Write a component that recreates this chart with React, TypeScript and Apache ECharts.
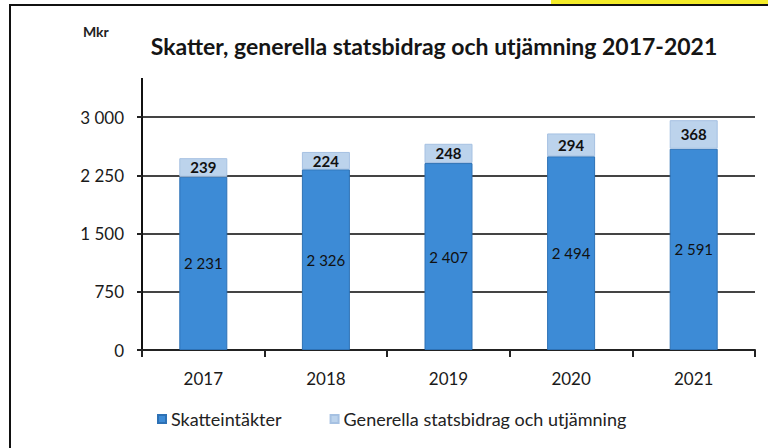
import React, { useEffect, useRef } from "react";
import * as echarts from "echarts";

const categories = ["2017", "2018", "2019", "2020", "2021"];
const skatteintakter = [2231, 2326, 2407, 2494, 2591];
const statsbidrag = [239, 224, 248, 294, 368];
const seriesNames = ["Skatteintäkter", "Generella statsbidrag och utjämning"];
const titleText = "Skatter, generella statsbidrag och utjämning 2017-2021";
const unitText = "Mkr";

const fmt = (v: number) => {
  const s = String(Math.round(v));
  return s.replace(/\B(?=(\d{3})+(?!\d))/g, " ");
};

const FONT = "Lato";

export default function App() {
  const ref = useRef<HTMLDivElement>(null);
  useEffect(() => {
    if (!ref.current) return;
    const chart = echarts.init(ref.current, undefined, { renderer: "svg" });
    chart.setOption({
      animation: false,
      backgroundColor: "#ffffff",
      textStyle: { fontFamily: FONT },
      legend: {
        left: 152,
        top: 405,
        itemWidth: 8,
        itemHeight: 8,
        itemGap: 48,
        icon: "rect",
        textStyle: { fontFamily: FONT, fontSize: 18, color: "#222" },
        data: seriesNames,
      },
      grid: { left: 142, right: 13, top: 117, bottom: 98, containLabel: false },
      xAxis: {
        type: "category",
        data: categories,
        axisLine: { lineStyle: { color: "#222", width: 2 } },
        axisTick: { show: true, length: 7, lineStyle: { color: "#222", width: 2 } },
        axisLabel: { fontFamily: FONT, fontSize: 17, color: "#1a1a1a", margin: 20 },
      },
      yAxis: {
        type: "value",
        min: 0,
        max: 3000,
        interval: 750,
        axisLine: { show: true, lineStyle: { color: "#111", width: 2 } },
        axisTick: { show: true, length: 5, lineStyle: { color: "#222", width: 2 } },
        axisLabel: {
          fontFamily: FONT,
          fontSize: 17,
          color: "#1a1a1a",
          margin: 18,
          formatter: (v: number) => fmt(v),
        },
        splitLine: { show: true, lineStyle: { color: "#444", width: 2 } },
      },
      series: [
        {
          name: seriesNames[0],
          type: "bar",
          stack: "total",
          barWidth: 48,
          data: skatteintakter,
          itemStyle: { color: "#3d8bd6", borderColor: "#2d71b5", borderWidth: 1 },
          label: {
            show: true,
            position: "inside",
            formatter: (p: any) => fmt(p.value),
            fontFamily: FONT,
            fontSize: 15,
            color: "#111",
          },
        },
        {
          name: seriesNames[1],
          type: "bar",
          stack: "total",
          barWidth: 48,
          data: statsbidrag,
          itemStyle: { color: "#bcd3ec", borderColor: "#a6c1e2", borderWidth: 1 },
          label: {
            show: true,
            position: "inside",
            formatter: (p: any) => fmt(p.value),
            fontFamily: FONT,
            fontSize: 15,
            fontWeight: "bold",
            color: "#111",
          },
        },
      ],
      graphic: [
        {
          type: "rect",
          shape: { x: 10, y: 5, width: 780, height: 470 },
          style: { stroke: "#111", lineWidth: 2, fill: "transparent" },
          silent: true,
          z: 10,
        },
        {
          type: "rect",
          shape: { x: 551, y: 0, width: 217, height: 4 },
          style: { fill: "#f4ec2a" },
          silent: true,
        },
        {
          type: "line",
          shape: { x1: 142, y1: 78, x2: 142, y2: 118 },
          style: { stroke: "#111", lineWidth: 2 },
          silent: true,
        },
        {
          type: "text",
          x: 83,
          y: 24,
          style: { text: unitText, fontFamily: FONT, fontSize: 14, fontWeight: "bold", fill: "#222" },
          silent: true,
        },
        {
          type: "text",
          x: 434,
          y: 46,
          style: {
            text: titleText,
            fontFamily: FONT,
            fontSize: 23,
            fontWeight: "bold",
            fill: "#151515",
            align: "center",
            verticalAlign: "middle",
          },
          silent: true,
        },
      ],
    });
    return () => chart.dispose();
  }, []);
  return <div ref={ref} style={{ width: 768, height: 448, position: "absolute", left: 0, top: 0 }} />;
}
